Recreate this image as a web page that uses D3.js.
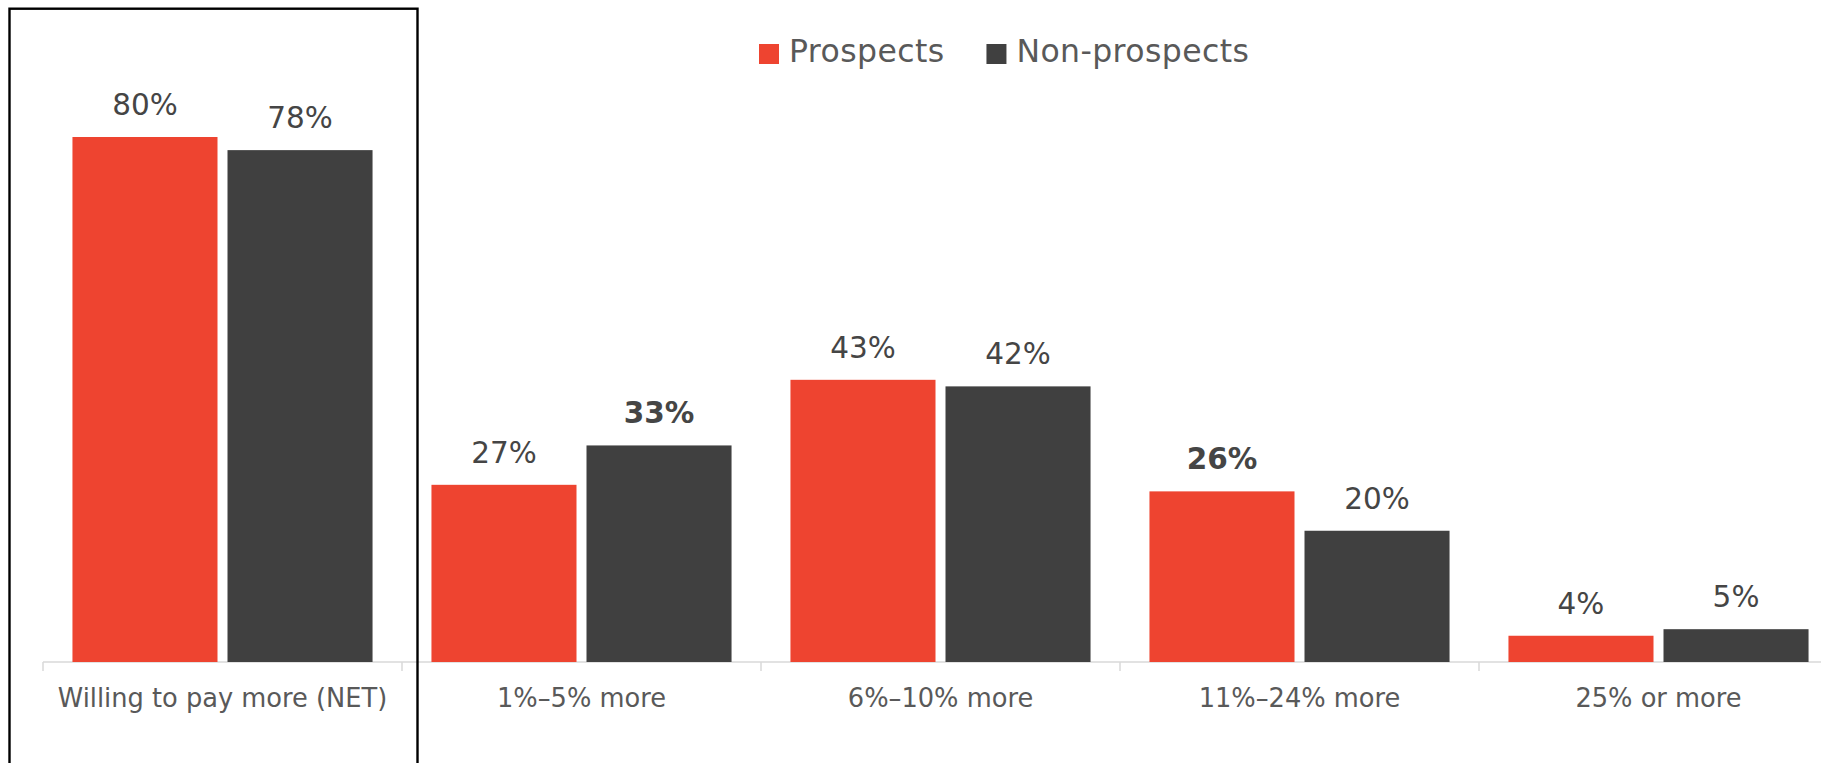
<!DOCTYPE html>
<html>
<head>
<meta charset="utf-8">
<script src="https://cdn.jsdelivr.net/npm/d3@7"></script>
<style>
  html, body { margin: 0; padding: 0; background: #fff; }
  svg { display: block; }
  text { font-family: "DejaVu Sans", Lato, sans-serif; }
</style>
</head>
<body>
<script>
const categories = ["Willing to pay more (NET)", "1%\u20135% more", "6%\u201310% more", "11%\u201324% more", "25% or more"];
const seriesNames = ["Prospects", "Non-prospects"];
const prospects = [80, 27, 43, 26, 4];
const nonProspects = [78, 33, 42, 20, 5];
const boldProspects = [false, false, false, true, false];
const boldNonProspects = [false, true, false, false, false];
const seriesColors = ["#EE4430", "#404040"];

const W = 1821, H = 763;
const svg = d3.select("body").append("svg").attr("width", W).attr("height", H);

const x0 = d3.scaleBand().domain(categories).range([43, 43 + 359 * 5]).paddingInner(0).paddingOuter(0);
const x1 = d3.scaleBand().domain(seriesNames).range([0, x0.bandwidth()]).paddingInner(10 / 155).paddingOuter(0.19);
const y = d3.scaleLinear().domain([0, 80]).range([662, 137]);
const color = d3.scaleOrdinal().domain(seriesNames).range(seriesColors);

const rows = categories.map((c, i) => ({
  cat: c,
  vals: [
    { s: seriesNames[0], v: prospects[i], b: boldProspects[i] },
    { s: seriesNames[1], v: nonProspects[i], b: boldNonProspects[i] }
  ]
}));

// Axis
const axis = d3.axisBottom(x0).tickSize(0).tickPadding(0).tickFormat("");
const gAxis = svg.append("g").attr("transform", "translate(0,662)").call(axis);
gAxis.select(".domain").remove();
gAxis.append("line").attr("x1", 43).attr("x2", W).attr("y1", 0).attr("y2", 0)
  .attr("stroke", "#d9d9d9").attr("stroke-width", 1.5);
const boundaries = categories.map(c => x0(c));
gAxis.selectAll("line.tk").data(boundaries).join("line").attr("class", "tk")
  .attr("x1", d => d).attr("x2", d => d).attr("y1", 0).attr("y2", 9)
  .attr("stroke", "#d9d9d9").attr("stroke-width", 1.5);
gAxis.selectAll("text.cl").data(categories).join("text").attr("class", "cl")
  .attr("x", d => x0(d) + x0.bandwidth() / 2).attr("y", 45)
  .attr("text-anchor", "middle").attr("fill", "#595959")
  .style("font-size", "25.7px").text(d => d);

// Bars
const g = svg.append("g").selectAll("g").data(rows).join("g")
  .attr("transform", d => `translate(${x0(d.cat)},0)`);
g.selectAll("rect").data(d => d.vals).join("rect")
  .attr("x", d => x1(d.s)).attr("width", x1.bandwidth())
  .attr("y", d => y(d.v)).attr("height", d => y(0) - y(d.v))
  .attr("fill", d => color(d.s));
g.selectAll("text").data(d => d.vals).join("text")
  .attr("x", d => x1(d.s) + x1.bandwidth() / 2).attr("y", d => y(d.v) - 22)
  .attr("text-anchor", "middle").attr("fill", "#454545")
  .style("font-size", "29.5px").style("font-weight", d => d.b ? "bold" : "normal")
  .text(d => d.v + "%");

// Legend
const leg = svg.append("g");
let lx = 759;
seriesNames.forEach((s, i) => {
  leg.append("rect").attr("x", lx).attr("y", 44).attr("width", 20).attr("height", 20).attr("fill", color(s));
  const t = leg.append("text").attr("x", lx + 30).attr("y", 62).attr("fill", "#595959")
    .style("font-size", "31.5px").style("letter-spacing", "0.4px").text(s);
  lx = lx + 30 + t.node().getComputedTextLength() + 42;
});

// Highlight box
svg.append("rect").attr("x", 9.5).attr("y", 8.7).attr("width", 408).attr("height", 800)
  .attr("fill", "none").attr("stroke", "#000").attr("stroke-width", 2.4);
</script>
</body>
</html>
